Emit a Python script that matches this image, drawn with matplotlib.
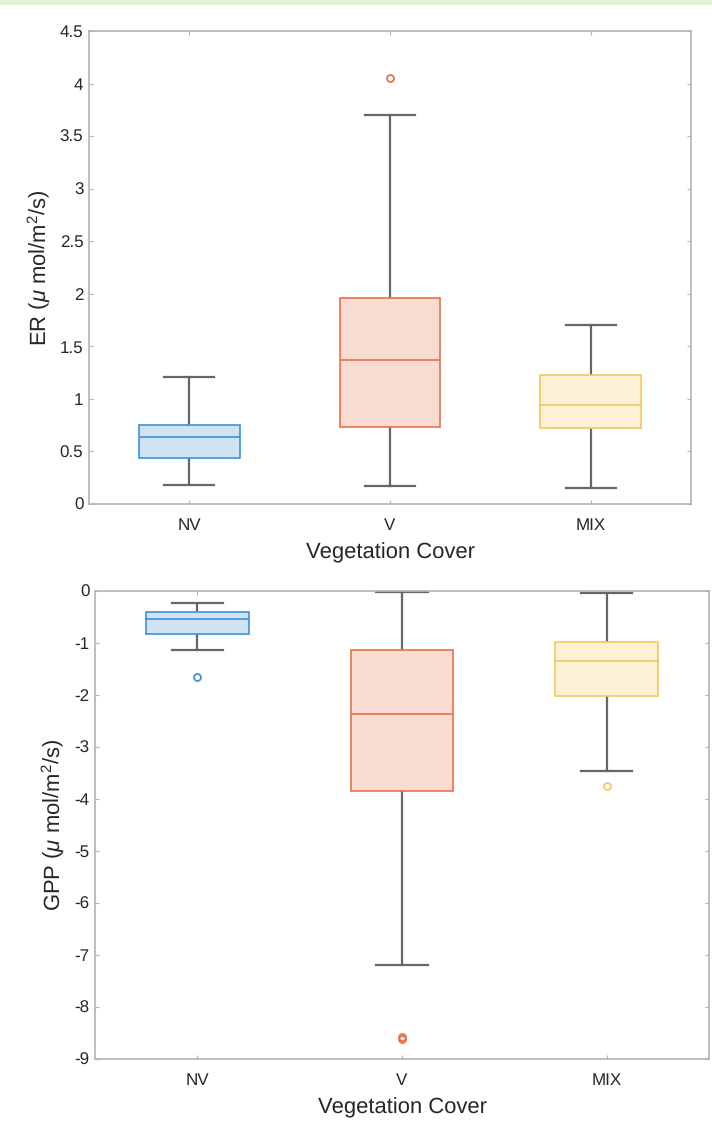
import matplotlib
matplotlib.use("Agg")
import matplotlib.pyplot as plt
from matplotlib.patches import Rectangle

plt.rcParams['font.family'] = ['Liberation Sans', 'DejaVu Sans']
plt.rcParams['mathtext.fontset'] = 'custom'
plt.rcParams['mathtext.rm'] = 'Liberation Sans'
plt.rcParams['mathtext.it'] = 'Liberation Sans:italic'
plt.rcParams['text.hinting'] = 'no_hinting'
plt.rcParams['text.hinting_factor'] = 1

categories = ["NV", "V", "MIX"]
xlabel = "Vegetation Cover"

# ER panel stats
er_med = [0.64, 1.37, 0.94]
er_q1 = [0.44, 0.73, 0.72]
er_q3 = [0.75, 1.96, 1.23]
er_whislo = [0.18, 0.17, 0.15]
er_whishi = [1.21, 3.70, 1.70]
er_fliers = [[], [4.05], []]

# GPP panel stats
gpp_med = [-0.54, -2.37, -1.35]
gpp_q1 = [-0.83, -3.85, -2.02]
gpp_q3 = [-0.40, -1.13, -0.98]
gpp_whislo = [-1.13, -7.20, -3.46]
gpp_whishi = [-0.23, -0.02, -0.04]
gpp_fliers = [[-1.65], [-8.57, -8.62], [-3.75]]

edge_colors = ["#3f92d8", "#e8714a", "#f4c75a"]
fill_colors = ["#cfe3f4", "#f8dcd1", "#fcf0d5"]
whisker_color = "#666666"
frame_color = "#b3b3b3"
text_color = "#262626"

fig = plt.figure(figsize=(7.12, 11.31), dpi=100)
W, H = 712, 1131
fig.patches.append(Rectangle((0, 1 - 5 / H), 1, 5 / H, transform=fig.transFigure,
                             facecolor="#e3f1d9", edgecolor="none"))


def make_axes(l, r, t, b):
    return fig.add_axes([l / W, 1 - b / H, (r - l) / W, (b - t) / H])


def draw(ax, med, q1, q3, lo, hi, fl, ylim, yticks, yticklabels, ylabel):
    stats = []
    for i in range(len(categories)):
        stats.append(dict(med=med[i], q1=q1[i], q3=q3[i], whislo=lo[i], whishi=hi[i],
                          fliers=fl[i], label=categories[i]))
    pos = list(range(1, len(categories) + 1))
    res = ax.bxp(stats, positions=pos, widths=0.5, patch_artist=True,
                 showfliers=True, manage_ticks=False)
    for i, box in enumerate(res['boxes']):
        box.set_facecolor(fill_colors[i])
        box.set_edgecolor(edge_colors[i])
        box.set_linewidth(1.2)
        box.set_zorder(3)
    for i, m in enumerate(res['medians']):
        m.set_color(edge_colors[i])
        m.set_linewidth(1.2)
        m.set_zorder(4)
    for w in res['whiskers']:
        w.set_color(whisker_color)
        w.set_linewidth(1.6)
    for c in res['caps']:
        c.set_color(whisker_color)
        c.set_linewidth(1.6)
        xd = c.get_xdata()
        cx = (xd[0] + xd[1]) / 2
        c.set_xdata([cx - 0.125, cx + 0.125])
    for i, f in enumerate(res['fliers']):
        f.set_marker('o')
        f.set_markerfacecolor('none')
        f.set_markeredgecolor(edge_colors[i])
        f.set_markersize(5)
        f.set_markeredgewidth(1.3)
    ax.set_xlim(0.5, 3.5)
    ax.set_ylim(*ylim)
    ax.set_xticks(pos)
    ax.set_xticklabels(categories)
    ax.set_yticks(yticks)
    ax.set_yticklabels(yticklabels)
    ax.tick_params(direction='in', length=3, width=0.8, color=frame_color,
                   labelsize=12.5, labelcolor=text_color, top=True, right=True)
    ax.tick_params(axis='x', pad=9.5)
    ax.tick_params(axis='y', pad=4)
    for s in ax.spines.values():
        s.set_color(frame_color)
        s.set_linewidth(1.2)
    ax.set_xlabel(xlabel, fontsize=15.5, color=text_color, labelpad=7)
    ax.set_ylabel(ylabel, fontsize=15.5, color=text_color, labelpad=5)


ax1 = make_axes(89, 691, 31, 504)
er_ticks = [0, 0.5, 1, 1.5, 2, 2.5, 3, 3.5, 4, 4.5]
er_labels = ["0", "0.5", "1", "1.5", "2", "2.5", "3", "3.5", "4", "4.5"]
draw(ax1, er_med, er_q1, er_q3, er_whislo, er_whishi, er_fliers, (0, 4.5),
     er_ticks, er_labels, r"ER ($\mu$ mol/m$^2$/s)")

ax2 = make_axes(95, 709, 591, 1059)
gpp_ticks = [0, -1, -2, -3, -4, -5, -6, -7, -8, -9]
gpp_labels = [str(t) for t in gpp_ticks]
draw(ax2, gpp_med, gpp_q1, gpp_q3, gpp_whislo, gpp_whishi, gpp_fliers, (-9, 0),
     gpp_ticks, gpp_labels, r"GPP ($\mu$ mol/m$^2$/s)")

fig.savefig("out.png", dpi=100)
